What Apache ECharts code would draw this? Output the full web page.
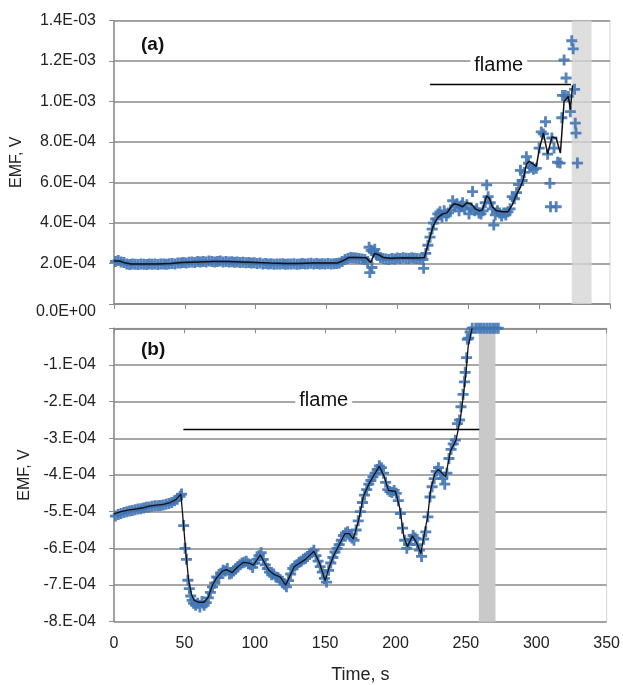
<!DOCTYPE html>
<html><head><meta charset="utf-8">
<script src="https://cdn.jsdelivr.net/npm/echarts@6/dist/echarts.min.js"></script>
<style>html,body{margin:0;padding:0;background:#fff}#c{width:623px;height:685px}</style>
</head><body><div id="c"></div>
<script>
// ---- panel (a): EMF in units of 1e-4 V ----
const topYLabels = ['0.0E+00','2.0E-04','4.0E-04','6.0E-04','8.0E-04','1.0E-03','1.2E-03','1.4E-03'];
const botYLabels = ['-8.E-04','-7.E-04','-6.E-04','-5.E-04','-4.E-04','-3.E-04','-2.E-04','-1.E-04',''];
const xTicks = [0,50,100,150,200,250,300,350];

const topTime = [
1,3,5,7,9,11,13,15,17,19,
21,23,25,27,29,31,33,35,37,39,
41,43,45,47,49,51,53,55,57,59,
61,63,65,67,69,71,73,75,77,79,
81,83,85,87,89,91,93,95,97,99,
101,103,105,107,109,111,113,115,117,119,
121,123,125,127,129,131,133,135,137,139,
141,143,145,147,149,151,153,155,157,159,
161,163,165,167,169,171,173,175,177,179,
180,180.5,181.5,182,183,184,185,186,188,190,
192,194,196,198,200,202,204,206,208,210,
212,214,216,218,218.5,220,221.5,223,224.5,225.5,
227,228.5,230,231.5,233,234.5,236,237.5,239,240.5,
242,243.5,245,246,247.5,249,250.5,252,253,254.5,
256,257.5,259,260.5,262,263,264,265.5,267,268,
269,270.5,272,273.5,275,276.5,278,279.5,281,282.5,
284,285.5,286.8,288,289.5,291,292.5,294,296,298,
300,301.5,303,304.5,306,307.6,308,309,310.5,312,
313,314.8,316,316.5,317.6,318.5,319,320.6,322,323,
324,325,325.5,326,327];
const topEmf = [
2.10,2.15,2.08,2.05,1.98,1.95,1.97,1.96,1.95,1.97,
1.96,1.95,1.97,1.96,1.98,1.95,1.97,1.98,1.96,1.99,
2.00,1.98,2.02,2.03,2.05,2.02,2.06,2.08,2.05,2.10,
2.07,2.10,2.08,2.12,2.10,2.08,2.10,2.12,2.08,2.10,
2.07,2.09,2.06,2.08,2.05,2.06,2.04,2.05,2.02,2.04,
2.00,2.02,1.98,2.00,1.97,1.99,1.96,1.98,1.97,1.99,
1.96,1.98,1.97,1.99,1.96,1.98,2.00,1.97,1.99,2.01,
1.98,2.00,1.97,1.99,1.98,2.00,1.97,1.99,2.00,2.02,
2.10,2.20,2.25,2.30,2.28,2.27,2.25,2.22,2.20,2.10,
2.80,1.55,2.65,1.80,2.55,2.70,2.45,2.40,2.30,2.25,
2.22,2.20,2.25,2.22,2.27,2.25,2.28,2.26,2.25,2.28,
2.26,2.25,2.22,2.20,1.76,2.50,2.90,3.30,3.70,4.00,
4.20,4.45,4.55,4.30,4.60,4.35,4.50,4.65,5.10,4.80,
4.95,4.60,4.85,5.00,4.70,4.90,4.45,4.75,5.55,4.60,
4.70,4.50,4.45,4.60,5.00,5.88,5.30,5.00,4.70,3.90,
4.40,4.60,4.50,4.35,4.50,4.40,4.55,4.70,5.30,5.20,
5.50,5.90,6.60,6.10,6.50,7.27,6.95,6.75,6.65,6.70,
7.70,8.50,8.40,9.00,7.40,5.96,4.80,8.20,7.70,4.80,
7.00,6.96,9.20,10.30,12.05,10.30,11.16,10.25,9.50,13.00,
12.60,10.60,8.93,8.44,6.96];

const topLineTime = [0,4,8,12,20,30,40,48,60,70,80,90,100,110,120,130,140,150,158,162,
166,172,178,181,184,187,190,195,205,215,219,221,223,225,227,229,232,235,238,240,
243,246,249,252,255,258,260,263,265,267,270,274,278,281,284,287,289,291,293,296,
298,300,303,306,309,312,315,317.6,320.6,322,323.6];
const topLineEmf = [2.12,2.12,2.02,1.98,1.98,1.98,2.0,2.05,2.08,2.1,2.1,2.08,2.05,2.02,2.0,2.0,2.02,2.02,2.03,2.15,
2.3,2.3,2.28,2.05,2.5,2.42,2.3,2.26,2.28,2.27,2.3,2.8,3.3,3.8,4.1,4.3,4.45,4.5,4.8,4.95,
4.9,4.8,5.0,4.95,4.7,4.6,4.65,5.35,5.2,4.8,4.6,4.55,4.55,4.9,5.4,5.8,6.2,6.9,7.05,6.9,
6.8,7.6,8.45,7.4,8.25,8.2,7.45,10.0,10.25,9.6,10.8];

// ---- panel (b) ----
const botTime = [
1,3,5,7,9,11,13,15,17,19,
21,23,25,27,29,31,33,35,37,39,
41,43,45,47,48,49.5,50.5,51.5,52.5,53.5,
54.5,55.5,56.5,58,59.5,61,62.5,64,65.5,67,
68.5,70,71.5,73,74.5,76,77.5,79,80.5,82,
83.5,85,86.5,88,89.5,91,92.5,94,95.5,97,
98.5,100,101.5,103,104.5,106,107.5,109,110.5,112,
113.5,115,116.5,118,119.5,121,122.5,124,125.5,127,
128.5,130,131.5,133,134.5,136,137.5,139,140.5,142,
143.5,145,146.5,148,149.5,151,152.5,154,155.5,157,
158.5,160,161.5,163,164.5,166,167.5,169,170.5,172,
173.5,175,176.5,178,179.5,181,182.5,184,185.5,187,
188.5,190,191.5,193,194.5,196,197.5,199,200.5,202,
203.5,205,206.5,208,209.5,211,212.5,214,215.5,217,
218.5,220,221.5,223,224.5,226,227.5,229,230.5,232,
233.5,235,236.5,238,239.5,241,242.5,244,245.5,246.5,
248,249,249.5,250.5,251,252,253,254.5,257,259,
261,263,265,267,269,271,273];
const botEmf = [
-5.12,-5.08,-5.05,-5.02,-5.00,-4.98,-4.97,-4.95,-4.93,-4.92,
-4.90,-4.88,-4.87,-4.85,-4.84,-4.84,-4.83,-4.82,-4.80,-4.78,
-4.75,-4.70,-4.66,-4.58,-4.52,-5.38,-6.00,-6.30,-6.87,-7.10,
-7.30,-7.42,-7.50,-7.55,-7.50,-7.60,-7.45,-7.55,-7.48,-7.35,
-7.20,-7.05,-6.95,-6.78,-6.80,-6.68,-6.60,-6.62,-6.55,-6.70,
-6.68,-6.62,-6.55,-6.50,-6.45,-6.40,-6.38,-6.35,-6.42,-6.45,
-6.52,-6.40,-6.30,-6.20,-6.12,-6.30,-6.45,-6.55,-6.65,-6.72,
-6.70,-6.78,-6.80,-6.85,-6.90,-6.98,-7.05,-6.88,-6.70,-6.55,
-6.48,-6.45,-6.38,-6.35,-6.30,-6.28,-6.22,-6.15,-6.12,-6.05,
-6.20,-6.35,-6.50,-6.65,-6.82,-6.92,-6.60,-6.40,-6.25,-6.10,
-6.00,-5.90,-5.78,-5.65,-5.58,-5.55,-5.62,-5.72,-5.78,-5.50,
-5.25,-5.00,-4.75,-4.55,-4.40,-4.25,-4.15,-4.05,-3.95,-3.85,
-3.75,-3.80,-3.95,-4.20,-4.40,-4.45,-4.48,-4.42,-4.50,-4.70,
-5.05,-5.45,-5.78,-6.00,-5.90,-5.75,-5.65,-5.72,-5.90,-6.05,
-6.22,-5.75,-5.55,-5.14,-4.60,-4.32,-4.10,-3.90,-3.80,-3.95,
-4.10,-4.25,-3.95,-3.55,-3.30,-3.15,-3.05,-2.60,-2.50,-2.14,
-1.80,-1.46,-1.20,-0.80,-0.30,-0.27,-0.10,0,0,0,
0,0,0,0,0,0,0];

const botLineTime = [0,5,10,15,20,25,30,35,40,44,
47.5,49.5,51,53,55,57,60,64,67,70,
73,77,80,84,88,92,96,99,104,107,
110,114,118,122,125,128,132,136,142,146,
150,153,156,160,164,167,170,174,177,181,
184,188.5,192,195,200,203,206,208.5,212,215,
218,220.5,222.8,225,228,230.5,233,235.5,239,243,
246,247.5,250,251.6,254.4];
const botLineEmf = [-5.06,-5.0,-4.96,-4.93,-4.9,-4.85,-4.82,-4.8,-4.75,-4.67,
-4.52,-5.4,-6.1,-6.86,-7.25,-7.42,-7.47,-7.47,-7.33,-7.0,
-6.8,-6.62,-6.58,-6.66,-6.5,-6.38,-6.4,-6.46,-6.18,-6.4,
-6.6,-6.72,-6.78,-7.0,-6.75,-6.5,-6.4,-6.3,-6.08,-6.4,
-6.88,-6.5,-6.2,-5.9,-5.6,-5.6,-5.74,-5.2,-4.6,-4.25,
-4.05,-3.76,-4.05,-4.42,-4.45,-4.9,-5.7,-5.95,-5.66,-5.85,
-6.14,-5.6,-5.14,-4.4,-3.95,-3.85,-3.95,-4.05,-3.35,-3.05,
-2.5,-2.05,-1.25,-0.5,0];

// annotations (data units)
const bandTop = [323, 337];
const bandBot = [259.2, 271];
const flameTopLine = [[223, 10.85], [322.5, 10.85]];
const flameTopText = [271.5, 11.8];
const flameBotLine = [[49.3, -2.75], [259.5, -2.75]];
const flameBotText = [149, -1.97];

const FONT = 'Liberation Sans';
const PLUS = 'path://M3.7,0H6.3V3.7H10V6.3H6.3V10H3.7V6.3H0V3.7H3.7Z';
const GRID_C = '#8a8a8a';
const MARK_C = '#4275b5';

const zip = (a, b) => a.map((t, i) => [t, b[i]]);

function xAxis(idx, showLabels) {
  return {
    type: 'value', gridIndex: idx, min: 0, max: 350, interval: 50,
    axisLine: {show: true, lineStyle: {color: GRID_C, width: 1.5}},
    axisTick: {show: true, length: 5, lineStyle: {color: GRID_C}},
    splitLine: {show: false},
    axisLabel: {show: showLabels, fontFamily: FONT, fontSize: 16, color: '#222', margin: 14,
      formatter: v => xTicks.includes(v) ? String(v) : ''},
    name: showLabels ? 'Time, s' : '', nameLocation: 'middle', nameGap: 44,
    nameTextStyle: {fontFamily: FONT, fontSize: 18, color: '#222'}
  };
}

function flameMarks(line, text) {
  return {
    markLine: {silent: true, symbol: ['none', 'none'], animation: false,
      lineStyle: {color: '#000', width: 1.3, type: 'solid'}, label: {show: false},
      data: [[{coord: line[0]}, {coord: line[1]}]]},
    markPoint: {silent: true, animation: false,
      data: [{coord: text, symbol: 'circle', symbolSize: 1, itemStyle: {color: 'rgba(0,0,0,0)'},
        label: {show: true, position: 'inside', formatter: 'flame', fontFamily: FONT, fontSize: 20,
          color: '#111', backgroundColor: '#fff', padding: [0, 4]}}]}
  };
}

const chart = echarts.init(document.getElementById('c'), null, {renderer: 'canvas'});
chart.setOption({
  animation: false,
  backgroundColor: '#fff',
  title: [
    {text: '(a)', left: 136, top: 30, textStyle: {fontFamily: FONT, fontSize: 19, fontWeight: 'bold', color: '#111'}},
    {text: '(b)', left: 136, top: 335, textStyle: {fontFamily: FONT, fontSize: 19, fontWeight: 'bold', color: '#111'}}
  ],
  grid: [
    {left: 114, right: 13, top: 20.5, height: 283.5, show: true, borderColor: '#cdd5de', borderWidth: 1},
    {left: 114, right: 13, top: 328.3, height: 293.4, show: true, borderColor: '#cdd5de', borderWidth: 1}
  ],
  xAxis: [xAxis(0, false), xAxis(1, true)],
  yAxis: [
    {type: 'value', gridIndex: 0, min: 0, max: 14, interval: 2,
      axisLine: {show: true, lineStyle: {color: GRID_C, width: 1.5}},
      axisTick: {show: true, length: 5, lineStyle: {color: GRID_C}},
      splitLine: {show: true, lineStyle: {color: GRID_C, width: 1.5}},
      axisLabel: {fontFamily: FONT, fontSize: 16, color: '#222', margin: 18,
        formatter: v => { const i = Math.round(v / 2); return i === 0 ? '{z|' + topYLabels[0] + '}' : topYLabels[i]; },
        rich: {z: {fontFamily: FONT, fontSize: 16, color: '#222', padding: [16, 0, 0, 0]}}},
      name: 'EMF, V', nameLocation: 'middle', nameGap: 84,
      nameTextStyle: {fontFamily: FONT, fontSize: 16, color: '#222'}},
    {type: 'value', gridIndex: 1, min: -8, max: 0, interval: 1,
      axisLine: {show: true, lineStyle: {color: GRID_C, width: 1.5}},
      axisTick: {show: true, length: 5, lineStyle: {color: GRID_C}},
      splitLine: {show: true, lineStyle: {color: GRID_C, width: 1.5}},
      axisLabel: {fontFamily: FONT, fontSize: 16, color: '#222', margin: 18,
        formatter: v => botYLabels[Math.round(v + 8)]},
      name: 'EMF, V', nameLocation: 'middle', nameGap: 78,
      nameTextStyle: {fontFamily: FONT, fontSize: 16, color: '#222'}}
  ],
  series: [
    {type: 'line', xAxisIndex: 1, yAxisIndex: 1, data: [], z: 1, silent: true,
      markArea: {silent: true, itemStyle: {color: '#c9c9c9'},
        data: [[{coord: [bandBot[0], -8]}, {coord: [bandBot[1], 0]}]]}},
    Object.assign({type: 'scatter', xAxisIndex: 0, yAxisIndex: 0, data: zip(topTime, topEmf),
      symbol: PLUS, symbolSize: 11, itemStyle: {color: MARK_C, opacity: 0.9}, z: 2}, flameMarks(flameTopLine, flameTopText)),
    {type: 'line', xAxisIndex: 0, yAxisIndex: 0, data: zip(topLineTime, topLineEmf),
      showSymbol: false, symbol: 'none', lineStyle: {color: '#111', width: 1.5}, z: 3},
    {type: 'line', xAxisIndex: 0, yAxisIndex: 0, data: [], z: 10, silent: true,
      markArea: {silent: true, itemStyle: {color: 'rgba(214,214,214,0.8)'},
        data: [[{coord: [bandTop[0], 0]}, {coord: [bandTop[1], 14]}]]}},
    Object.assign({type: 'scatter', xAxisIndex: 1, yAxisIndex: 1, data: zip(botTime, botEmf),
      symbol: PLUS, symbolSize: 11, itemStyle: {color: MARK_C, opacity: 0.9}, z: 2}, flameMarks(flameBotLine, flameBotText)),
    {type: 'line', xAxisIndex: 1, yAxisIndex: 1, data: zip(botLineTime, botLineEmf),
      showSymbol: false, symbol: 'none', lineStyle: {color: '#111', width: 1.3}, z: 3}
  ]
});
</script></body></html>
